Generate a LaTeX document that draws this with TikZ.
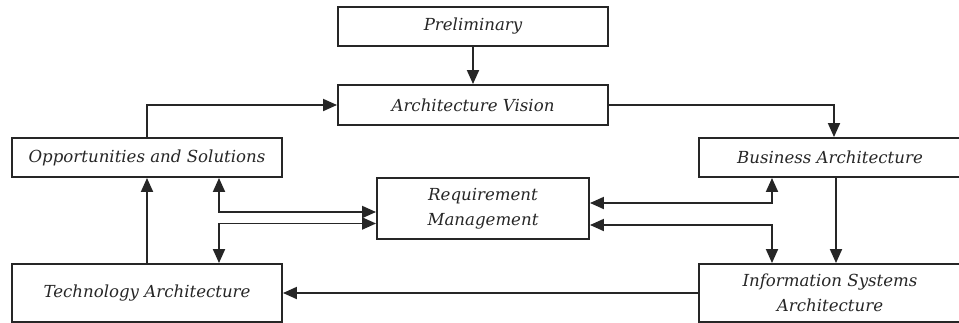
\documentclass[tikz,border=0pt]{standalone}
\usepackage{fontspec}
\setmainfont{DejaVu Serif}
\usetikzlibrary{arrows.meta,calc}
\definecolor{ink}{HTML}{262626}
\tikzset{
  phase/.style={draw=ink, line width=1.9pt, fill=white, text=ink,
    font=\fontsize{16.6}{24.5}\selectfont\itshape, inner sep=0pt, align=center},
  flow/.style={draw=ink, line width=1.9pt,
    -{Triangle[length=14pt,width=12pt]}},
  twoway/.style={draw=ink, line width=1.9pt,
    {Triangle[length=14pt,width=12pt]}-{Triangle[length=14pt,width=12pt]}}
}
\begin{document}
\begin{tikzpicture}[x=1pt,y=-1pt]
\useasboundingbox (0,0) rectangle (959,322);
\begin{scope}
\clip (0,0) rectangle (959,322);
% phase boxes
\node[phase, minimum width=270, minimum height=39] (prelim) at (473,26.5) {Preliminary};
\node[phase, minimum width=270, minimum height=40] (av) at (473,105) {Architecture Vision};
\node[phase, minimum width=270, minimum height=39] (opp) at (147,157.5) {Opportunities and Solutions};
\node[phase, minimum width=262, minimum height=39] (ba) at (830,157.5) {Business Architecture};
\node[phase, minimum width=212, minimum height=61] (rm) at (483,208.5) {Requirement\\Management};
\node[phase, minimum width=270, minimum height=58] (tech) at (147,293) {Technology Architecture};
\node[phase, minimum width=262, minimum height=58] (isa) at (830,293) {Information Systems\\Architecture};
% main cycle
\draw[flow] (prelim) -- (av);
\draw[flow] (av.east) -| ($(ba.north)+(4,0)$);
\draw[flow] ($(ba.south)+(6,0)$) -- ($(isa.north)+(6,0)$);
\draw[flow] (isa.west) -- (tech.east);
\draw[flow] (tech.north) -- (opp.south);
\draw[flow] (opp.north) |- (av.west);
% links with requirement management
\draw[twoway] ($(opp.south)+(72,0)$) |- ($(rm.west)+(0,3.5)$);
\draw[twoway] ($(rm.west)+(0,15)$) -| ($(tech.north)+(72,0)$);
\draw[twoway] ($(rm.east)+(0,-5.5)$) -| ($(ba.south)+(-58,0)$);
\draw[twoway] ($(rm.east)+(0,16.5)$) -| ($(isa.north)+(-58,0)$);
\end{scope}
\end{tikzpicture}
\end{document}
